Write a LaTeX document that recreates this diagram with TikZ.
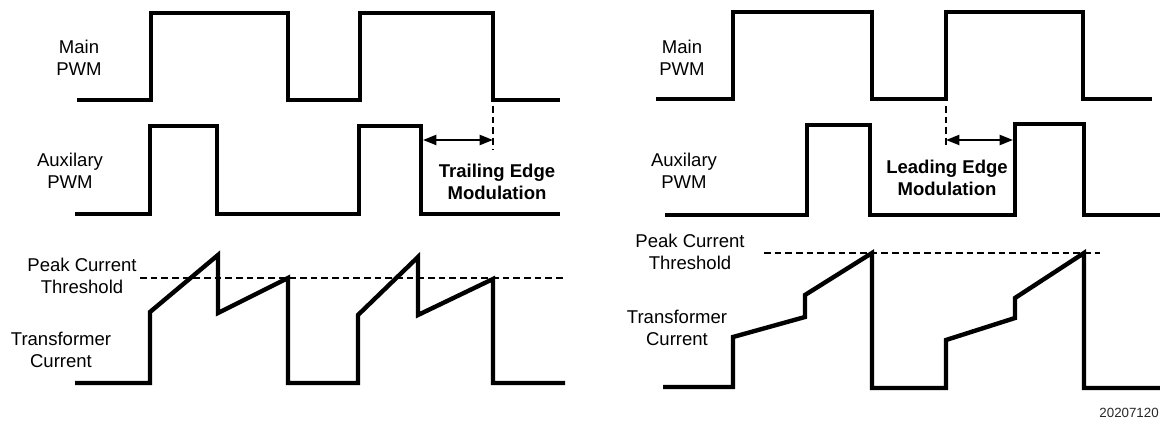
\documentclass[tikz,border=0pt]{standalone}
\usepackage{fontspec}
\setmainfont{Liberation Sans}
\usetikzlibrary{arrows.meta}
\definecolor{traceBlack}{RGB}{0,0,0}
\definecolor{captionGray}{RGB}{40,40,40}

\begin{document}
\begin{tikzpicture}[x=0.75pt,y=-0.75pt,
  trace/.style={traceBlack, line width=3.3pt, line join=miter},
  thresh/.style={traceBlack, line width=0.8pt, dash pattern=on 5pt off 3pt},
  modarrow/.style={traceBlack, line width=1.5pt, {Triangle[length=10pt,width=7.5pt]}-{Triangle[length=10pt,width=7.5pt]}},
  lbl/.style={font=\fontsize{13.9}{16.5}\selectfont, align=center, inner sep=0pt},
  boldlbl/.style={lbl, font=\fontsize{13.9}{16}\selectfont\bfseries}]
\useasboundingbox (0,0) rectangle (1160,423);

% trailing edge modulation (left)
\node[lbl] (mainL) at (79,58) {Main\\PWM};
\node[lbl] (auxL) at (70,171) {Auxilary\\PWM};
\node[lbl] (peakL) at (82,276) {Peak Current\\Threshold};
\node[lbl] (currL) at (61,350) {Transformer\\Current};
\draw[trace] (77,100) -- (151,100) -- (151,13) -- (288,13) -- (288,100) -- (360,100)
  -- (360,13) -- (493,13) -- (493,100) -- (560,100);
\draw[trace] (75,214) -- (150,214) -- (150,126) -- (217,126) -- (217,214) -- (359,214)
  -- (359,126) -- (421,126) -- (421,214) -- (560,214);
\coordinate (trailA) at (423,140);
\coordinate (trailB) at (493,140);
\draw[thresh] (493,106) -- (493,150);
\draw[modarrow] (trailA) -- (trailB);
\node[boldlbl] (trailTxt) at (497,182) {Trailing Edge\\Modulation};
\draw[thresh] (140,278) -- (565,278);
\draw[trace] (75,383) -- (150,383) -- (150,312) -- (218,255) -- (218,313) -- (288,278)
  -- (288,383) -- (358,383) -- (358,315) -- (418,257) -- (418,315) -- (493,279)
  -- (493,383) -- (565,383);

% leading edge modulation (right)
\node[lbl] (mainR) at (682,58) {Main\\PWM};
\node[lbl] (auxR) at (684,171) {Auxilary\\PWM};
\node[lbl] (peakR) at (690,252) {Peak Current\\Threshold};
\node[lbl] (currR) at (677,328) {Transformer\\Current};
\draw[trace] (656,99) -- (733,99) -- (733,12) -- (872,12) -- (872,99) -- (946,99)
  -- (946,12) -- (1083,12) -- (1083,99) -- (1152,99);
\draw[trace] (665,215) -- (807,215) -- (807,125) -- (870,125) -- (870,215) -- (1015,215)
  -- (1015,124) -- (1084,124) -- (1084,215) -- (1160,215);
\coordinate (leadA) at (946,140);
\coordinate (leadB) at (1013,140);
\draw[thresh] (946,106) -- (946,147);
\draw[modarrow] (leadA) -- (leadB);
\node[boldlbl] (leadTxt) at (947,178) {Leading Edge\\Modulation};
\draw[thresh] (764,253) -- (1100,253);
\draw[trace] (663,387) -- (733,387) -- (733,337) -- (805,317) -- (805,295) -- (872,253)
  -- (872,388) -- (946,388) -- (946,340) -- (1015,318) -- (1015,298) -- (1084,253)
  -- (1084,388) -- (1160,388);

\node[anchor=east, inner sep=0pt, text=captionGray, font=\fontsize{10}{12}\selectfont] (figId) at (1159,413) {20207120};
\end{tikzpicture}
\end{document}
